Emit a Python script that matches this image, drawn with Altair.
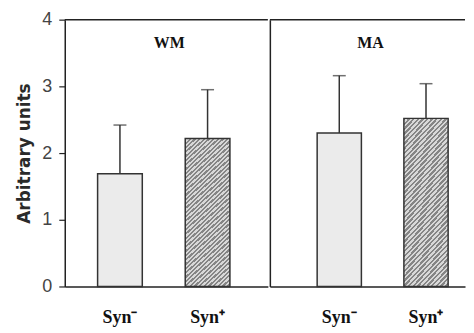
import altair as alt
import pandas as pd

regions = ["WM", "WM", "MA", "MA"]
groups = ["Syn⁻", "Syn⁺", "Syn⁻", "Syn⁺"]
means = [1.69, 2.22, 2.30, 2.52]
uppers = [2.42, 2.95, 3.16, 3.04]
group_order = ["Syn⁻", "Syn⁺"]
y_ticks = [0, 1, 2, 3, 4]

df = pd.DataFrame({"region": regions, "group": groups, "mean": means, "upper": uppers})

# diagonal hatch fill built as a hard-stop linear gradient
N = 44
dark, light = "#858585", "#d8d8d8"
stops = []
for i in range(N):
    a, b, c = i / N, (i + 0.5) / N, (i + 1) / N
    stops += [{"offset": a, "color": dark}, {"offset": b, "color": dark},
              {"offset": b, "color": light}, {"offset": c, "color": light}]
hatch = {"gradient": "linear", "x1": 0, "y1": 0, "x2": 0.333, "y2": 1.19, "stops": stops}

EDGE = "#333333"
H = 268


def panel(region, width, pad_outer, align, first):
    base = alt.Chart(df).transform_filter(alt.datum.region == region)
    x = alt.X(
        "group:N",
        sort=group_order,
        scale=alt.Scale(domain=group_order, paddingInner=0.49, paddingOuter=pad_outer, align=align),
        axis=alt.Axis(title=None, labelAngle=0, ticks=False, domainColor="#222222", domainWidth=1.5,
                      labelFont="Liberation Serif", labelFontWeight="bold", labelFontSize=18,
                      labelColor="#111111", labelPadding=22, grid=False),
    )
    if first:
        yaxis = alt.Axis(title="Arbitrary units", values=y_ticks, format="d", grid=False, tickSize=6,
                         tickWidth=1.2, tickColor="#222222", domainColor="#222222", domainWidth=1.5,
                         labelFont="Liberation Sans", labelFontSize=18, labelColor="#444444",
                         labelPadding=7, titleFont="DejaVu Sans", titleFontSize=17,
                         titleFontWeight="bold", titleColor="#2a2a2a", titlePadding=8)
    else:
        yaxis = alt.Axis(title=None, labels=False, ticks=False, grid=False, domainColor="#222222",
                         domainWidth=1.5, values=y_ticks)
    y = alt.Y("mean:Q", scale=alt.Scale(domain=[0, 4], nice=False), axis=yaxis)

    minus = base.transform_filter(alt.datum.group == "Syn⁻").mark_bar(
        fill="#ebebeb", stroke=EDGE, strokeWidth=1.5).encode(x=x, y=y)
    plus = base.transform_filter(alt.datum.group == "Syn⁺").mark_bar(
        fill=hatch, stroke=EDGE, strokeWidth=1.5).encode(x=x, y=y)
    err = base.mark_rule(color=EDGE, strokeWidth=1.5).encode(x=x, y=y, y2="upper:Q")
    cap = base.mark_tick(color=EDGE, size=13, thickness=1.5).encode(x=x, y="upper:Q")
    label = alt.Chart(pd.DataFrame({"t": [region]})).mark_text(
        font="Liberation Serif", fontWeight="bold", fontSize=16, color="#111111"
    ).encode(x=alt.value(width / 2 + 3), y=alt.value(23), text="t:N")
    top = alt.Chart(pd.DataFrame({"t": [region]})).mark_rule(color="#222222", strokeWidth=1.5).encode(
        x=alt.value(0), x2=alt.value(width), y=alt.value(0))
    return alt.layer(minus, plus, err, cap, label, top).properties(width=width, height=H)


chart = alt.hconcat(
    panel("WM", 204, 0.404, 0.464, True),
    panel("MA", 196, 0.37, 0.737, False),
    spacing=0,
).resolve_scale(y="shared").properties(
    padding={"left": 7, "top": 2, "right": 0, "bottom": 0}
).configure_view(stroke=None).configure_concat(spacing=0)

chart.save("out.html", embed_options={"renderer": "svg", "actions": False})
